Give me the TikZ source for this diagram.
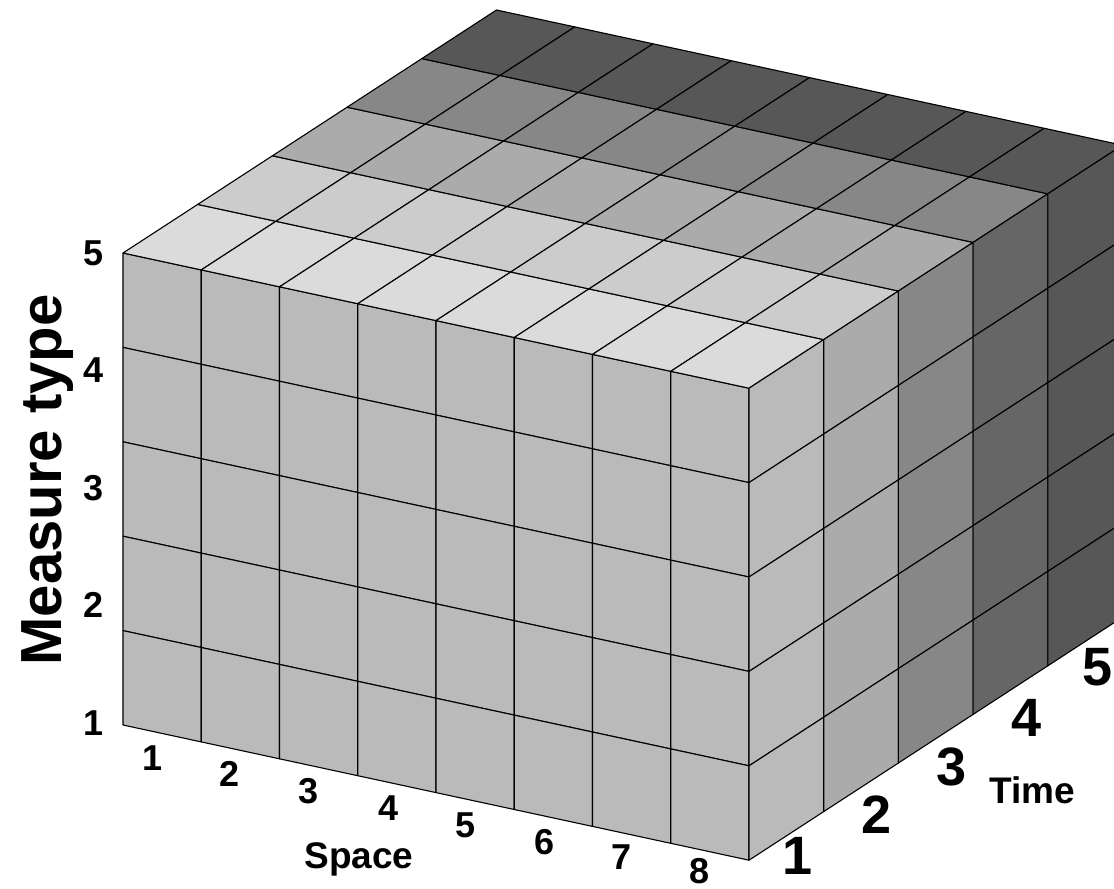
\documentclass[tikz,border=0pt]{standalone}
\usepackage{fontspec}
\setmainfont{Liberation Sans}
\definecolor{frontc}{gray}{0.73}
\definecolor{topa}{gray}{0.86}
\definecolor{topb}{gray}{0.80}
\definecolor{topc}{gray}{0.67}
\definecolor{topd}{gray}{0.53}
\definecolor{tope}{gray}{0.34}
\definecolor{ra}{gray}{0.73}
\definecolor{rb}{gray}{0.67}
\definecolor{rc}{gray}{0.53}
\definecolor{rd}{gray}{0.40}
\definecolor{re}{gray}{0.34}
\newcommand\cp[3]{({123+(#1)*78.25+(#3)*74.7},{253+(#1)*16.9+(#2)*94.4-(#3)*48.6})}
\begin{document}
\begin{tikzpicture}[x=1pt,y=-1pt,line join=round,
  cell/.style={draw=black,line width=1.1pt},
  lab/.style={font=\fontsize{36}{36}\selectfont\bfseries,inner sep=0pt},
  tlab/.style={font=\fontsize{54}{54}\selectfont\bfseries,inner sep=0pt},
  axt/.style={font=\fontsize{37}{37}\selectfont\bfseries,inner sep=0pt},
  bigt/.style={font=\fontsize{58}{58}\selectfont\bfseries,inner sep=0pt}]
\clip (0,0) rectangle (1114,889);
% front face
\foreach \i in {0,...,7}{
  \foreach \j in {0,...,4}{
    \filldraw[cell,fill=frontc] \cp{\i}{\j}{0} -- \cp{\i+1}{\j}{0} -- \cp{\i+1}{\j+1}{0} -- \cp{\i}{\j+1}{0} -- cycle;
  }
}
% top face
\foreach \k/\col in {0/topa,1/topb,2/topc,3/topd,4/tope}{
  \foreach \i in {0,...,7}{
    \filldraw[cell,fill=\col] \cp{\i}{0}{\k} -- \cp{\i+1}{0}{\k} -- \cp{\i+1}{0}{\k+1} -- \cp{\i}{0}{\k+1} -- cycle;
  }
}
% right face
\foreach \k/\col in {0/ra,1/rb,2/rc,3/rd,4/re}{
  \foreach \j in {0,...,4}{
    \filldraw[cell,fill=\col] \cp{8}{\j}{\k} -- \cp{8}{\j}{\k+1} -- \cp{8}{\j+1}{\k+1} -- \cp{8}{\j+1}{\k} -- cycle;
  }
}
% measure axis
\node[lab] (m5) at (94,253) {5};
\node[lab] (m4) at (94,370) {4};
\node[lab] (m3) at (94,488) {3};
\node[lab] (m2) at (94,605) {2};
\node[lab] (m1) at (94,723) {1};
\node[bigt,rotate=90,anchor=base] (mt) at (61,480) {Measure type};
% space axis
\node[lab] (s1) at (153,758) {1};
\node[lab] (s2) at (230,774) {2};
\node[lab] (s3) at (309,791) {3};
\node[lab] (s4) at (389,808) {4};
\node[lab] (s5) at (466,825) {5};
\node[lab] (s6) at (545,842) {6};
\node[lab] (s7) at (622,857) {7};
\node[lab] (s8) at (700,871) {8};
\node[axt,anchor=base] (sp) at (359,868) {Space};
% time axis
\node[tlab] (t1) at (798,856) {1};
\node[tlab] (t2) at (877,815) {2};
\node[tlab] (t3) at (952,767) {3};
\node[tlab] (t4) at (1027,718) {4};
\node[tlab] (t5) at (1098,667) {5};
\node[axt,anchor=base] (tm) at (1032,803) {Time};
\end{tikzpicture}
\end{document}
